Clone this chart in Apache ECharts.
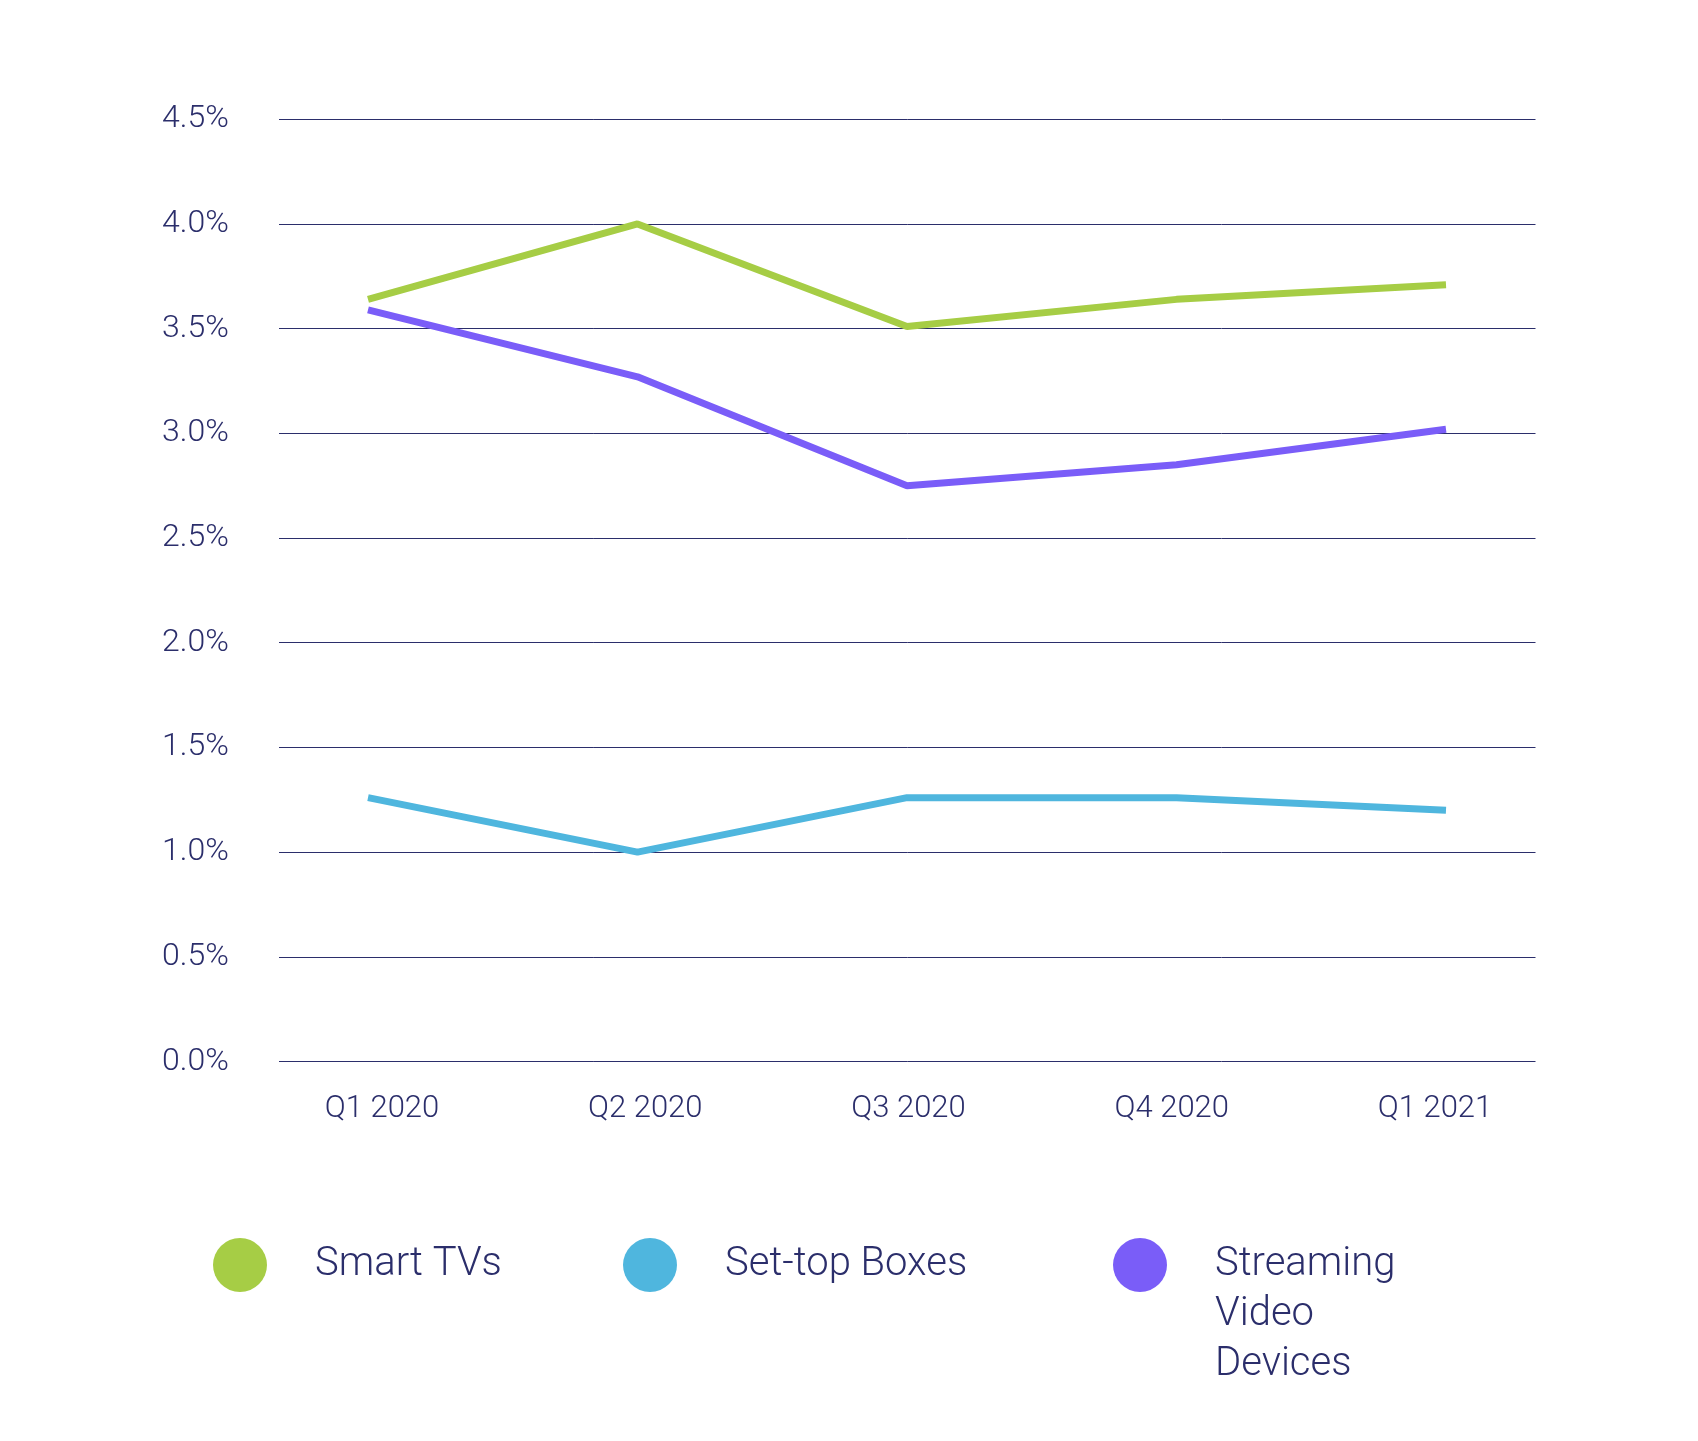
<!DOCTYPE html>
<html>
<head>
<meta charset="utf-8">
<script src="https://cdn.jsdelivr.net/npm/echarts@6/dist/echarts.min.js"></script>
<style>
html,body{margin:0;padding:0;background:#fff;}
#chart{width:1698px;height:1441px;}
</style>
</head>
<body>
<div id="chart"></div>
<script>
var categories = ['Q1 2020', 'Q2 2020', 'Q3 2020', 'Q4 2020', 'Q1 2021'];
var smartTVs = [3.64, 4.00, 3.51, 3.64, 3.71];
var setTopBoxes = [1.26, 1.00, 1.26, 1.26, 1.20];
var streamingDevices = [3.59, 3.27, 2.75, 2.85, 3.02];
var seriesNames = ['Smart TVs', 'Set-top Boxes', 'Streaming Video Devices'];
var yMin = 0, yMax = 4.5, yStep = 0.5;

var NAVY = '#2b2e6b';
var COLORS = ['#a6cd45', '#4fb6de', '#7a5df8'];
var FONT = 'Roboto';

var chart = echarts.init(document.getElementById('chart'), null, {renderer: 'canvas'});
var top_ = 119.3, bottom_ = 1441 - 1061.5;

function legendFor(i, left, top, formatter) {
  return {
    show: true,
    data: [seriesNames[i]],
    left: left, top: top,
    padding: 0,
    icon: 'circle',
    itemWidth: 54, itemHeight: 54,
    selectedMode: false,
    formatter: formatter,
    textStyle: {color: NAVY, fontFamily: FONT, fontWeight: 300, fontSize: 40, lineHeight: 50, padding: [0, 0, 0, 43]}
  };
}

var option = {
  backgroundColor: '#ffffff',
  animation: false,
  color: COLORS,
  legend: [
    legendFor(0, 213, 1238),
    legendFor(1, 623, 1238),
    legendFor(2, 1113, 1140, function (n) { return '\n\n' + n.split(' ').join('\n'); })
  ],
  grid: [
    {left: 279, right: 1698 - 1535.5, top: top_, bottom: bottom_},
    {left: 368, right: 1698 - 1446, top: top_, bottom: bottom_},
    {left: 382, right: 1698 - 1435, top: top_, bottom: bottom_}
  ],
  xAxis: [
    {gridIndex: 0, type: 'category', data: categories, show: false},
    {gridIndex: 1, type: 'category', data: categories, boundaryGap: false, show: false},
    {gridIndex: 2, type: 'category', data: categories, boundaryGap: false,
      axisLine: {show: false}, axisTick: {show: false}, splitLine: {show: false},
      axisLabel: {color: NAVY, fontFamily: FONT, fontWeight: 300, fontSize: 31, margin: 32, interval: 0}}
  ],
  yAxis: [
    {gridIndex: 0, type: 'value', min: yMin, max: yMax, interval: yStep,
      axisLine: {show: false}, axisTick: {show: false},
      splitLine: {show: true, lineStyle: {color: NAVY, width: 1}},
      axisLabel: {color: NAVY, fontFamily: FONT, fontWeight: 300, fontSize: 32, align: 'left', margin: 117,
        formatter: function (v) { return v.toFixed(1) + '%'; }}},
    {gridIndex: 1, type: 'value', min: yMin, max: yMax, interval: yStep, show: false, splitLine: {show: false}},
    {gridIndex: 2, type: 'value', min: yMin, max: yMax, interval: yStep, show: false, splitLine: {show: false}}
  ],
  series: [
    {name: seriesNames[2], type: 'line', xAxisIndex: 1, yAxisIndex: 1, data: streamingDevices,
      showSymbol: false, lineStyle: {width: 7, color: COLORS[2]}, itemStyle: {color: COLORS[2]}, z: 3},
    {name: seriesNames[0], type: 'line', xAxisIndex: 1, yAxisIndex: 1, data: smartTVs,
      showSymbol: false, lineStyle: {width: 7, color: COLORS[0]}, itemStyle: {color: COLORS[0]}, z: 4},
    {name: seriesNames[1], type: 'line', xAxisIndex: 1, yAxisIndex: 1, data: setTopBoxes,
      showSymbol: false, lineStyle: {width: 7, color: COLORS[1]}, itemStyle: {color: COLORS[1]}, z: 3}
  ]
};
chart.setOption(option);
</script>
</body>
</html>
